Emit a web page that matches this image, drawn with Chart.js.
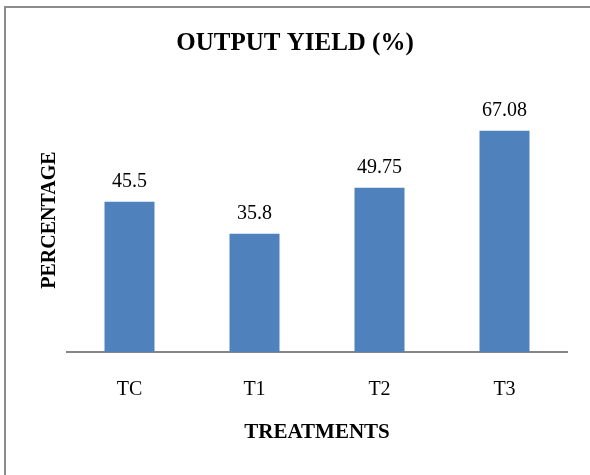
<!DOCTYPE html>
<html>
<head>
<meta charset="utf-8">
<script src="https://cdn.jsdelivr.net/npm/chart.js@4.4.1/dist/chart.umd.min.js"></script>
<style>
  html, body { margin: 0; padding: 0; background: #fff; }
  #wrap { position: relative; width: 590px; height: 475px; overflow: hidden; }
  #frame {
    position: absolute; left: 4px; top: 6px; width: 600px; height: 500px;
    border-top: 2px solid #8c8c8c; border-left: 2px solid #8c8c8c;
  }
  canvas { position: absolute; left: 0; top: 0; }
</style>
</head>
<body>
<div id="wrap">
  <div id="frame"></div>
  <canvas id="chart" width="590" height="475"></canvas>
</div>
<script>
// Output yield per treatment (%)
const treatments = ['TC', 'T1', 'T2', 'T3'];
const yieldValues = [45.5, 35.8, 49.75, 67.08];
const valueLabels = ['45.5', '35.8', '49.75', '67.08'];
const yMin = 0;
const yMax = 80;

const serif = "'Liberation Serif', 'Times New Roman', 'DejaVu Serif', serif";

// Writes each bar's value just above it
const barValuePlugin = {
  id: 'barValues',
  afterDatasetsDraw(chart) {
    const ctx = chart.ctx;
    const meta = chart.getDatasetMeta(0);
    ctx.save();
    ctx.font = '20px ' + serif;
    ctx.fillStyle = '#000';
    ctx.textAlign = 'center';
    ctx.textBaseline = 'alphabetic';
    meta.data.forEach((bar, i) => {
      ctx.fillText(valueLabels[i], bar.x, bar.y - 15);
    });
    ctx.restore();
  }
};

new Chart(document.getElementById('chart'), {
  type: 'bar',
  data: {
    labels: treatments,
    datasets: [{
      data: yieldValues,
      backgroundColor: '#4f81bd',
      borderWidth: 0,
      categoryPercentage: 0.8,
      barPercentage: 0.5
    }]
  },
  options: {
    responsive: false,
    animation: false,
    layout: { padding: { left: 23, right: 23, top: 0, bottom: 0 } },
    plugins: {
      legend: { display: false },
      tooltip: { enabled: false },
      title: {
        display: true,
        text: 'OUTPUT YIELD (%)',
        color: '#000',
        font: { family: serif, size: 25, weight: 'bold', lineHeight: 1.2 },
        padding: { top: 29, bottom: 29 }
      }
    },
    scales: {
      x: {
        grid: { display: false, drawTicks: false },
        border: { display: true, color: '#868686', width: 2 },
        ticks: {
          color: '#000',
          font: { family: serif, size: 20, lineHeight: 1.2 },
          padding: 26
        },
        title: {
          display: true,
          text: 'TREATMENTS',
          color: '#000',
          font: { family: serif, size: 21, weight: 'bold', lineHeight: 1.2 },
          padding: { top: 0, bottom: 30 }
        },
        afterFit(scale) { scale.height = 123; }
      },
      y: {
        min: yMin,
        max: yMax,
        grid: { display: false, drawTicks: false },
        border: { display: false },
        ticks: { display: false },
        title: {
          display: true,
          text: 'PERCENTAGE',
          color: '#000',
          font: { family: serif, size: 20, weight: 'bold', lineHeight: 1.2 },
          padding: { top: 15, bottom: 0 }
        },
        afterFit(scale) { scale.width = 44; }
      }
    }
  },
  plugins: [barValuePlugin]
});
</script>
</body>
</html>
